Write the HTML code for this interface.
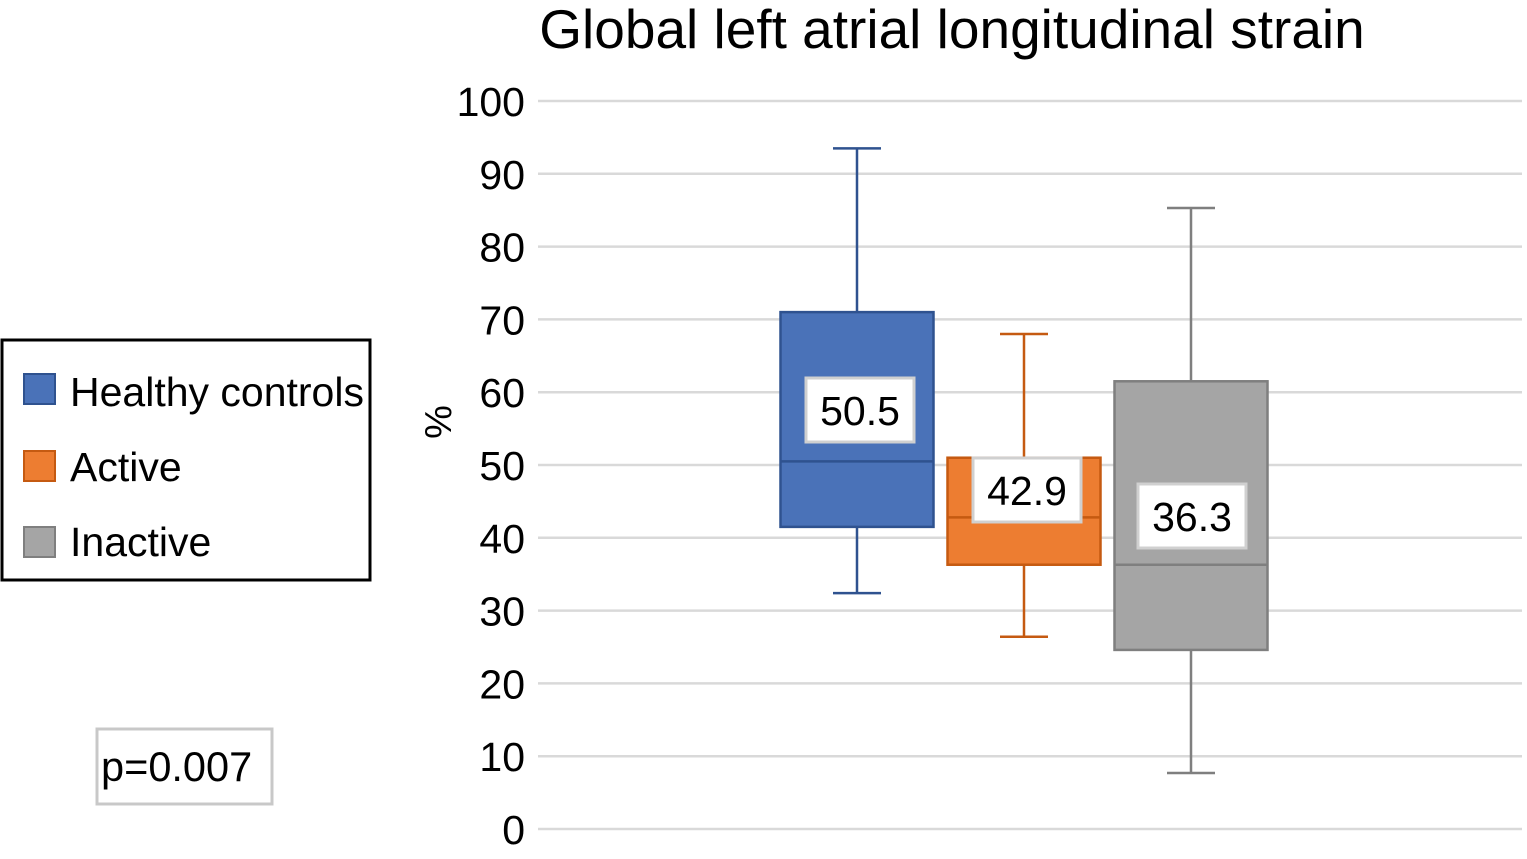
<!DOCTYPE html>
<html><head><meta charset="utf-8"><style>
body{margin:0;background:#fff;}
svg{display:block;font-family:"Liberation Sans",Arial,sans-serif;}
</style></head><body>
<svg id="chart" width="1527" height="859">
<text x="952" y="48" font-size="55" text-anchor="middle">Global left atrial longitudinal strain</text>
<text transform="translate(451,422) rotate(-90)" font-size="38" text-anchor="middle">%</text>
<g id="grid"></g><g id="boxes"></g>
<g>
<rect x="2" y="340" width="368" height="240" fill="#fff" stroke="#000" stroke-width="3"/>
<rect x="24" y="374" width="31" height="30" fill="#4a72b8" stroke="#2f528f" stroke-width="2"/>
<text x="70" y="406" font-size="41">Healthy controls</text>
<rect x="24" y="451" width="31" height="30" fill="#ed7d31" stroke="#c55a11" stroke-width="2"/>
<text x="70" y="481" font-size="41">Active</text>
<rect x="24" y="527" width="31" height="30" fill="#a5a5a5" stroke="#7f7f7f" stroke-width="2"/>
<text x="70" y="556" font-size="41">Inactive</text>
</g>
<g>
<rect x="97" y="729" width="175" height="75" fill="#fff" stroke="#c8c8c8" stroke-width="3"/>
<text x="101" y="781" font-size="41.5">p=0.007</text>
</g>
</svg>
<script>
const ticks=[0,10,20,30,40,50,60,70,80,90,100];
const groups=["Healthy controls","Active","Inactive"];
const mins=[32.4,26.4,7.7];
const q1s=[41.5,36.3,24.6];
const medians=[50.5,42.8,36.3];
const q3s=[71,51,61.5];
const maxs=[93.5,68,85.3];
const labels=["50.5","42.9","36.3"];
const fills=["#4a72b8","#ed7d31","#a5a5a5"];
const strokes=["#2f528f","#c55a11","#7f7f7f"];
const NS="http://www.w3.org/2000/svg";
const y=v=>829-v*7.28;
const cx=i=>857+i*167;
function mk(tag,at,parent){const e=document.createElementNS(NS,tag);for(const k in at)e.setAttribute(k,at[k]);parent.appendChild(e);return e;}
const grid=document.getElementById('grid');
ticks.forEach(t=>{
 const l=mk('line',{x1:538,x2:1522,y1:y(t),y2:y(t),stroke:'#d9d9d9','stroke-width':2.5},grid);
 
 
 const tx=mk('text',{x:525,y:y(t)+15,'font-size':41,'text-anchor':'end'},grid);
 tx.textContent=t;
 
 
});
const bx=document.getElementById('boxes');
const lblPos=[[860,410],[1027,490],[1192,516]];
groups.forEach((g,i)=>{
 const c=cx(i),w=153,s=strokes[i];
 const grp=mk('g',{},bx);
 
 
 mk('line',{x1:c,x2:c,y1:y(maxs[i]),y2:y(q3s[i]),stroke:s,'stroke-width':2.5},grp);
 mk('line',{x1:c,x2:c,y1:y(q1s[i]),y2:y(mins[i]),stroke:s,'stroke-width':2.5},grp);
 mk('line',{x1:c-24,x2:c+24,y1:y(maxs[i]),y2:y(maxs[i]),stroke:s,'stroke-width':2.5},grp);
 mk('line',{x1:c-24,x2:c+24,y1:y(mins[i]),y2:y(mins[i]),stroke:s,'stroke-width':2.5},grp);
 mk('rect',{x:c-w/2,y:y(q3s[i]),width:w,height:y(q1s[i])-y(q3s[i]),fill:fills[i],stroke:s,'stroke-width':2.5},grp);
 mk('line',{x1:c-w/2,x2:c+w/2,y1:y(medians[i]),y2:y(medians[i]),stroke:s,'stroke-width':2.5},grp);
 const [lx,ly]=lblPos[i];
 const r=mk('rect',{x:lx-54,y:ly-32,width:108,height:64,fill:'#fff',stroke:'#d0d0d0','stroke-width':3},grp);
 
 
 const t=mk('text',{x:lx,y:ly+15,'font-size':41,'text-anchor':'middle'},grp);
 t.textContent=labels[i];
 
 
});
</script>
</body></html>
